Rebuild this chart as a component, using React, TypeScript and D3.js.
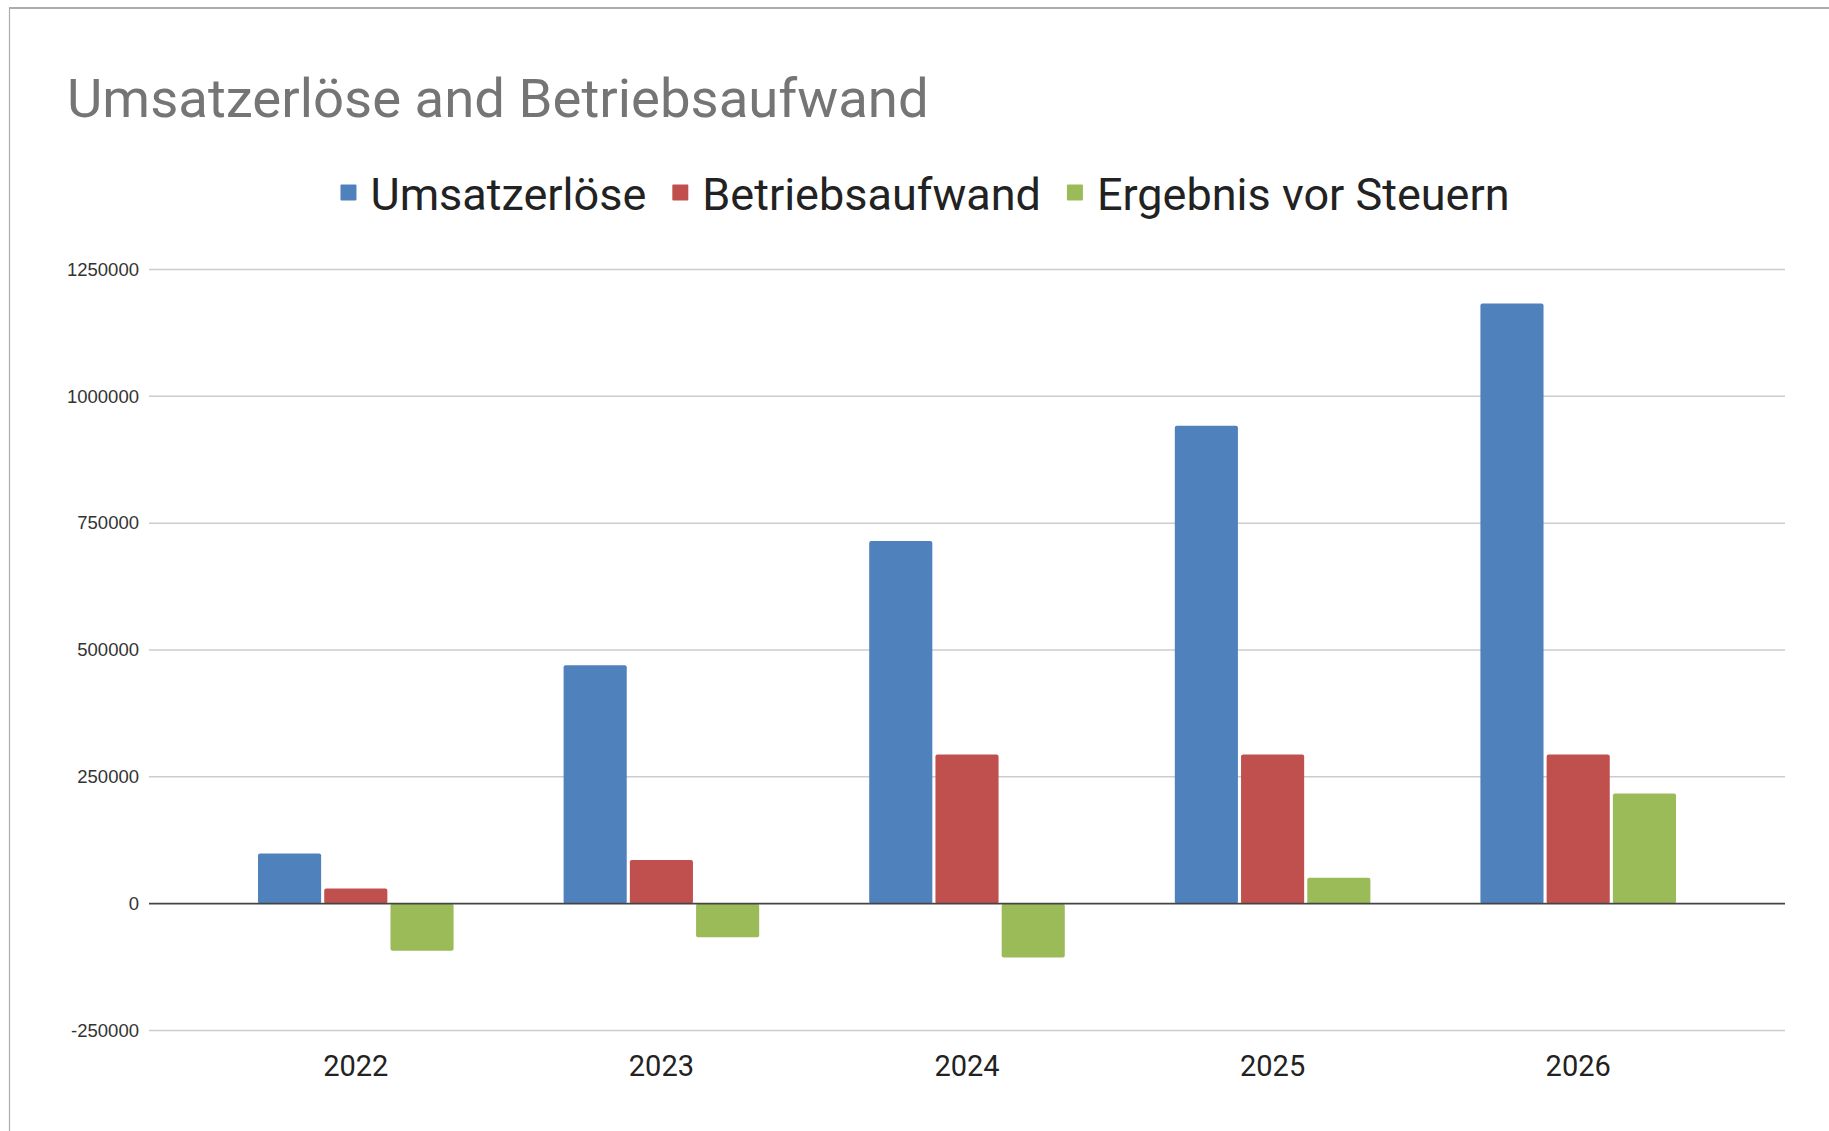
import React from "react";
import * as d3 from "d3";

const years = ["2022", "2023", "2024", "2025", "2026"];
const seriesNames = ["Umsatzerlöse", "Betriebsaufwand", "Ergebnis vor Steuern"];
const umsatzerloese = [99000, 470000, 715000, 942000, 1183000];
const betriebsaufwand = [30000, 86000, 294000, 294000, 294000];
const ergebnis = [-93000, -66000, -106000, 51000, 217000];
const yTicks = [-250000, 0, 250000, 500000, 750000, 1000000, 1250000];
const colors = ["#4f81bd", "#c0504d", "#9bbb59"];
const titleText = "Umsatzerlöse and Betriebsaufwand";

const W = 1829;
const H = 1131;

function measure(text: string, font: string): number {
  const c = document.createElement("canvas");
  const ctx = c.getContext("2d")!;
  ctx.font = font;
  return ctx.measureText(text).width;
}

export default function App() {
  const values = [umsatzerloese, betriebsaufwand, ergebnis];
  const plotLeft = 149;
  const plotRight = 1785;

  const y = d3.scaleLinear().domain([-250000, 1250000]).range([1030.5, 269.5]);
  const x = d3
    .scaleBand<string>()
    .domain(years)
    .range([203, 1731])
    .paddingInner(0.36)
    .paddingOuter(0.18);
  const xs = d3
    .scaleBand<string>()
    .domain(seriesNames)
    .range([0, x.bandwidth()])
    .paddingInner(0.047);

  // legend layout
  const legendSize = 45;
  const legendFont = `${legendSize}px Roboto`;
  const box = 16;
  const boxGap = 14;
  const itemGap = 26;
  const widths = seriesNames.map((s) => measure(s, legendFont));
  const total =
    widths.reduce((a, b) => a + b, 0) + seriesNames.length * (box + boxGap) + (seriesNames.length - 1) * itemGap;
  let lx = 925 - total / 2;
  const legendItems = seriesNames.map((s, i) => {
    const item = { name: s, x: lx, color: colors[i] };
    lx += box + boxGap + widths[i] + itemGap;
    return item;
  });

  return (
    <svg
      width={W}
      height={H}
      style={{ position: "absolute", left: 0, top: 0, background: "#fff" }}
    >
      <rect x={0} y={0} width={W} height={H} fill="#fff" />
      {/* frame */}
      <line x1={9} x2={W} y1={8} y2={8} stroke="#acacac" strokeWidth={2} />
      <line x1={9.5} x2={9.5} y1={7} y2={H} stroke="#acacac" strokeWidth={1.2} />

      <text x={67} y={117} fontFamily="Roboto" fontSize={54.5} fill="#757575">
        {titleText}
      </text>

      {legendItems.map((it) => (
        <g key={it.name}>
          <rect x={it.x} y={184.5} width={box} height={box} fill={it.color} rx={1} />
          <text x={it.x + box + boxGap} y={209.5} fontFamily="Roboto" fontSize={legendSize} fill="#222">
            {it.name}
          </text>
        </g>
      ))}

      {/* gridlines */}
      {yTicks
        .filter((t) => t !== 0)
        .map((t) => (
          <line
            key={t}
            x1={plotLeft}
            x2={plotRight}
            y1={y(t)}
            y2={y(t)}
            stroke="#cccccc"
            strokeWidth={1.5}
          />
        ))}
      {yTicks.map((t) => (
        <text
          key={"l" + t}
          x={139}
          y={y(t) + 6.3}
          textAnchor="end"
          fontFamily="'Liberation Sans', Arial, sans-serif"
          fontSize={18.5}
          fill="#333"
        >
          {t}
        </text>
      ))}

      {/* bars */}
      {years.map((yr, i) => (
        <g key={yr} transform={`translate(${x(yr)},0)`}>
          {seriesNames.map((s, j) => {
            const v = values[j][i];
            const y0 = y(0);
            const y1 = y(v);
            return (
              <rect
                key={s}
                x={xs(s)}
                y={Math.min(y0, y1)}
                width={xs.bandwidth()}
                height={Math.abs(y1 - y0)}
                fill={colors[j]}
                rx={2}
              />
            );
          })}
        </g>
      ))}

      {/* zero line */}
      <line x1={plotLeft} x2={plotRight} y1={y(0)} y2={y(0)} stroke="#444" strokeWidth={1.6} />

      {/* x labels */}
      {years.map((yr) => (
        <text
          key={"x" + yr}
          x={(x(yr) as number) + x.bandwidth() / 2}
          y={1075.5}
          textAnchor="middle"
          fontFamily="Roboto"
          fontSize={29}
          fill="#222"
        >
          {yr}
        </text>
      ))}
    </svg>
  );
}
